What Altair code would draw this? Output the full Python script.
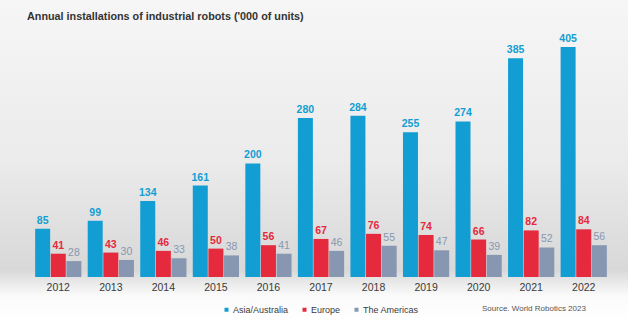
import altair as alt
import pandas as pd

years = ["2012", "2013", "2014", "2015", "2016", "2017", "2018", "2019", "2020", "2021", "2022"]
series = ["Asia/Australia", "Europe", "The Americas"]
asia = [85, 99, 134, 161, 200, 280, 284, 255, 274, 385, 405]
europe = [41, 43, 46, 50, 56, 67, 76, 74, 66, 82, 84]
americas = [28, 30, 33, 38, 41, 46, 55, 47, 39, 52, 56]
colors = ["#129ed3", "#e42a3c", "#8797b1"]
title_text = "Annual installations of industrial robots ('000 of units)"
source_text = "Source. World Robotics 2023"

rows = []
for name, vals in zip(series, [asia, europe, americas]):
    for y, v in zip(years, vals):
        rows.append({"year": y, "series": name, "value": v})
df = pd.DataFrame(rows)

FONT = "Liberation Sans"
W, H = 578, 230
PL, PT = 32, 47

x = alt.X("year:N", title=None, sort=years,
          scale=alt.Scale(paddingInner=0.12, paddingOuter=0.06),
          axis=alt.Axis(labelAngle=0, ticks=False, domain=False, labelPadding=5,
                        labelFontSize=10.5, labelColor="#3a3a3a", labelFont=FONT, zindex=2))
xo = alt.XOffset("series:N", sort=series, scale=alt.Scale(paddingInner=0.04))
y = alt.Y("value:Q", scale=alt.Scale(domain=[0, 405]), axis=None)
color = alt.Color("series:N", sort=series,
                  scale=alt.Scale(domain=series, range=colors),
                  legend=alt.Legend(title=None, orient="none", direction="horizontal",
                                    legendX=190, legendY=258, symbolType="square",
                                    symbolSize=16, symbolStrokeWidth=0,
                                    labelFontSize=9, labelColor="#3a3a3a",
                                    labelFont=FONT, columnPadding=11, labelOffset=2,
                                    symbolOffset=0, zindex=2))

bg = alt.Chart(alt.Data(values=[{}])).mark_rect(
    color=alt.LinearGradient(
        gradient="linear", x1=0, y1=0, x2=0, y2=1,
        stops=[alt.GradientStop(offset=0, color="#f6f6f6"),
               alt.GradientStop(offset=0.5, color="#ebebeb"),
               alt.GradientStop(offset=0.84, color="#d8d8d8"),
               alt.GradientStop(offset=0.92, color="#fafafa"),
               alt.GradientStop(offset=1, color="#ffffff")])
).encode(x=alt.value(-PL), x2=alt.value(628 - PL), y=alt.value(-PT), y2=alt.value(321 - PT))

base = alt.Chart(df)
bars = base.mark_bar(size=15).encode(x=x, xOffset=xo, y=y, color=color)

label_color = alt.Color("series:N", sort=series, legend=None,
                        scale=alt.Scale(domain=series, range=colors))
labels_bold = base.transform_filter(alt.datum.series != "The Americas").mark_text(
    baseline="bottom", dy=-3, fontSize=10.5, fontWeight="bold", font=FONT
).encode(x=x, xOffset=xo, y=y, text="value:Q", color=label_color)
labels_norm = base.transform_filter(alt.datum.series == "The Americas").mark_text(
    baseline="bottom", dy=-3, fontSize=10.5, font=FONT
).encode(x=x, xOffset=xo, y=y, text="value:Q", color=label_color)

title = alt.Chart(alt.Data(values=[{"t": title_text}])).mark_text(
    align="left", baseline="middle", fontSize=10.8, fontWeight="bold", color="#333333", font=FONT
).encode(x=alt.value(-5), y=alt.value(-30), text="t:N")

source = alt.Chart(alt.Data(values=[{"t": source_text}])).mark_text(
    align="left", baseline="middle", fontSize=8, color="#555555", font=FONT
).encode(x=alt.value(450), y=alt.value(262), text="t:N")

chart = alt.layer(bg, bars, labels_bold, labels_norm, title, source).properties(
    width=W, height=H,
    autosize=alt.AutoSizeParams(type="none"),
    padding={"left": PL, "top": PT, "right": 628 - PL - W, "bottom": 321 - PT - H},
    background="#ffffff",
).configure_view(stroke=None)

chart.save("out.html", embed_options={"renderer": "svg", "actions": False})
